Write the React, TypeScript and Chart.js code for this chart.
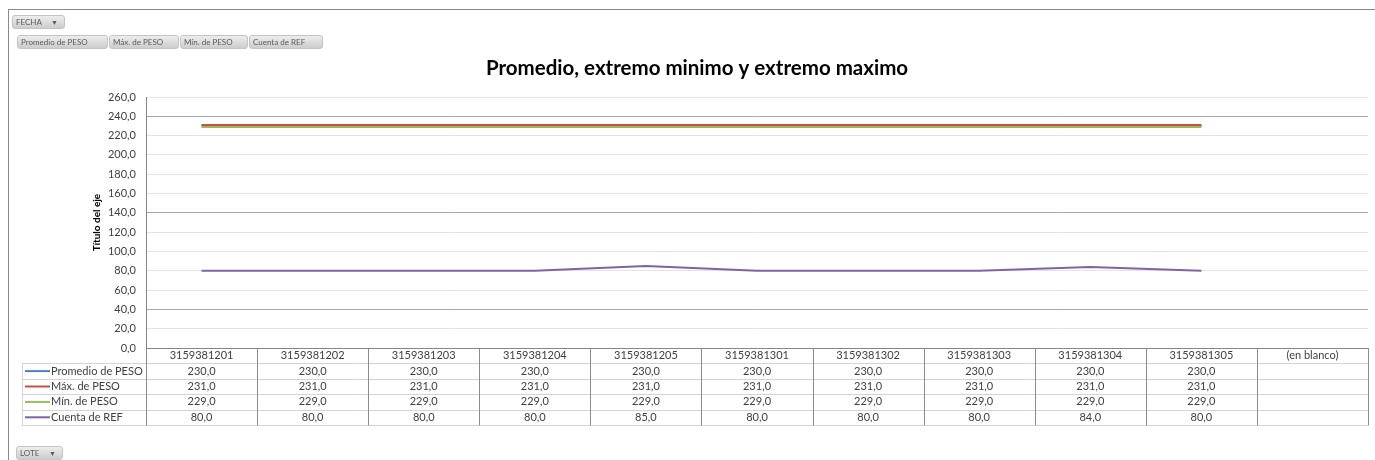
import React, { useEffect, useRef } from "react";
import { Chart, registerables } from "chart.js";

Chart.register(...registerables);

// Pivot categories (LOTE values) and the four summary series
const categories = [
  "3159381201", "3159381202", "3159381203", "3159381204", "3159381205",
  "3159381301", "3159381302", "3159381303", "3159381304", "3159381305",
  "(en blanco)",
];
const promedioPeso = [230, 230, 230, 230, 230, 230, 230, 230, 230, 230, null];
const maxPeso = [231, 231, 231, 231, 231, 231, 231, 231, 231, 231, null];
const minPeso = [229, 229, 229, 229, 229, 229, 229, 229, 229, 229, null];
const cuentaRef = [80, 80, 80, 80, 85, 80, 80, 80, 84, 80, null];

const seriesNames = ["Promedio de PESO", "Máx. de PESO", "Mín. de PESO", "Cuenta de REF"];
const seriesColors = ["#4F81BD", "#C0504D", "#9BBB59", "#8064A2"];
const seriesValues = [promedioPeso, maxPeso, minPeso, cuentaRef];

const yMin = 0;
const yMax = 260;
const yStep = 20;
const darkGridValues = [240, 140, 40];

const chartTitle = "Promedio, extremo minimo y extremo maximo";
const axisTitle = "Título del eje";
const fieldButtons = ["Promedio de PESO", "Máx. de PESO", "Mín. de PESO", "Cuenta de REF"];

const FONT = "Lato, 'Open Sans', sans-serif";
const fmt = (v: number) => v.toFixed(1).replace(".", ",");

// Chart title plus the data table under the plot, aligned to the category scale
const dataTablePlugin = {
  id: "dataTable",
  afterDraw(chart: any) {
    const { ctx, chartArea } = chart;
    const xs = chart.scales.x;
    const colW = (chartArea.right - chartArea.left) / categories.length;
    const top = chartArea.bottom;
    const rowH = 15.4;
    const legendLeft = 22;
    const bottom = top + rowH * 5;

    ctx.save();
    ctx.fillStyle = "#000";
    ctx.font = `bold 20.5px ${FONT}`;
    ctx.textAlign = "center";
    ctx.textBaseline = "middle";
    ctx.fillText(chartTitle, 697, 68);

    // horizontal row lines
    ctx.strokeStyle = "#d4d4d4";
    ctx.lineWidth = 1;
    for (let r = 1; r <= 5; r++) {
      const y = Math.round(top + rowH * r) + 0.5;
      ctx.beginPath();
      ctx.moveTo(legendLeft, y);
      ctx.lineTo(chartArea.right, y);
      ctx.stroke();
    }
    // legend column left border
    ctx.beginPath();
    ctx.moveTo(legendLeft + 0.5, Math.round(top + rowH) + 0.5);
    ctx.lineTo(legendLeft + 0.5, Math.round(bottom) + 0.5);
    ctx.stroke();

    // column separators
    ctx.strokeStyle = "#8c8c8c";
    for (let c = 0; c <= categories.length; c++) {
      const x = Math.round(chartArea.left + colW * c) + 0.5;
      ctx.beginPath();
      ctx.moveTo(x, top);
      ctx.lineTo(x, Math.round(bottom) + 0.5);
      ctx.stroke();
    }

    ctx.font = `11px ${FONT}`;
    ctx.fillStyle = "#404040";
    ctx.textAlign = "center";
    ctx.textBaseline = "middle";
    categories.forEach((cat, i) => {
      ctx.fillText(cat, xs.getPixelForValue(i), top + rowH / 2);
    });

    seriesValues.forEach((vals, s) => {
      const cy = top + rowH * (s + 1) + rowH / 2;
      // legend key
      ctx.strokeStyle = seriesColors[s];
      ctx.lineWidth = 2;
      ctx.beginPath();
      ctx.moveTo(25, cy);
      ctx.lineTo(50, cy);
      ctx.stroke();
      ctx.fillStyle = "#404040";
      ctx.textAlign = "left";
      ctx.fillText(seriesNames[s], 51, cy);
      ctx.textAlign = "center";
      vals.forEach((v, i) => {
        if (v === null) return;
        ctx.fillText(fmt(v as number), xs.getPixelForValue(i), cy);
      });
    });
    ctx.restore();
  },
};

function PivotButton({ label, style, arrow }: { label: string; style: React.CSSProperties; arrow?: boolean }) {
  return (
    <div
      style={{
        position: "absolute",
        boxSizing: "border-box",
        height: 14,
        lineHeight: "12px",
        fontFamily: FONT,
        fontSize: 8,
        color: "#5a5a5a",
        background: "linear-gradient(#ededed, #cdcdcd)",
        border: "1px solid #c4c4c4",
        borderRadius: 3,
        paddingLeft: 3,
        whiteSpace: "nowrap",
        ...style,
      }}
    >
      {label}
      {arrow ? <span style={{ position: "absolute", right: 6, top: 0, fontSize: 7 }}>▼</span> : null}
    </div>
  );
}

export default function App() {
  const canvasRef = useRef<HTMLCanvasElement | null>(null);

  useEffect(() => {
    if (!canvasRef.current) return;
    // lower order is painted later: Promedio first, then Máx, Mín, Cuenta
    const drawOrder = [3, 2, 1, 0];
    const chart = new Chart(canvasRef.current, {
      type: "line",
      data: {
        labels: categories,
        datasets: seriesValues.map((vals, s) => ({
          label: seriesNames[s],
          data: vals,
          order: drawOrder[s],
          borderColor: seriesColors[s],
          backgroundColor: seriesColors[s],
          borderWidth: 2,
          pointRadius: 0,
          tension: 0,
          spanGaps: false,
        })),
      },
      options: {
        animation: false,
        responsive: false,
        events: [],
        layout: { padding: { left: 87, right: 7, top: 97, bottom: 112 } },
        plugins: {
          legend: { display: false },
          title: { display: false },
          tooltip: { enabled: false },
        },
        scales: {
          x: {
            type: "category",
            offset: true,
            grid: { display: false, drawTicks: false },
            border: { display: true, color: "#868686", width: 1 },
            ticks: { display: false },
            afterFit: (scale: any) => {
              scale.height = 0;
            },
          },
          y: {
            min: yMin,
            max: yMax,
            border: { display: true, color: "#868686", width: 1 },
            grid: {
              drawTicks: false,
              color: (c: any) =>
                darkGridValues.includes(c.tick?.value) ? "#a8a8a8" : "#e4e4e4",
            },
            ticks: {
              stepSize: yStep,
              padding: 10,
              color: "#404040",
              font: { family: FONT, size: 11 },
              callback: (v: any) => fmt(Number(v)),
            },
            title: {
              display: true,
              text: axisTitle,
              color: "#000",
              font: { family: FONT, size: 10, weight: "bold" },
              padding: { top: 4, bottom: 4 },
            },
            afterFit: (scale: any) => {
              scale.width = 59;
            },
          },
        },
      },
      plugins: [dataTablePlugin],
    });
    return () => chart.destroy();
  }, []);

  return (
    <div style={{ position: "absolute", left: 0, top: 0, width: 1375, height: 460, overflow: "hidden", background: "#fff" }}>
      <div
        style={{
          position: "absolute",
          left: 8,
          top: 9,
          width: 1367,
          height: 451,
          borderTop: "1px solid #8a8a8a",
          borderLeft: "1px solid #8a8a8a",
          boxSizing: "border-box",
        }}
      />
      <canvas ref={canvasRef} width={1375} height={460} style={{ position: "absolute", left: 0, top: 0 }} />
      <PivotButton label="FECHA" arrow style={{ left: 12, top: 15, width: 53 }} />
      {fieldButtons.map((b, i) => {
        const lefts = [17, 109, 180, 249];
        const widths = [91, 70, 68, 74];
        return <PivotButton key={b} label={b} style={{ left: lefts[i], top: 35, width: widths[i] }} />;
      })}
      <PivotButton label="LOTE" arrow style={{ left: 16, top: 446, width: 47 }} />
    </div>
  );
}
